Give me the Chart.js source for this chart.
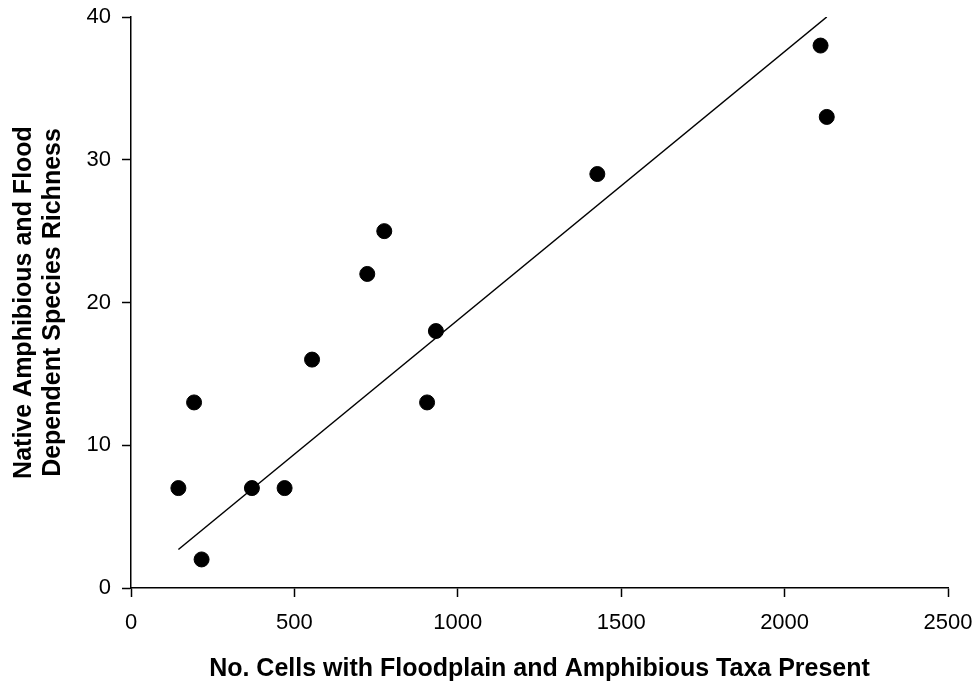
<!DOCTYPE html>
<html>
<head>
<meta charset="utf-8">
<script src="https://cdn.jsdelivr.net/npm/chart.js@4"></script>
<style>
  body { margin: 0; background: #fff; }
  #wrap { width: 976px; height: 684px; }
</style>
</head>
<body>
<div id="wrap"><canvas id="chart"></canvas></div>
<script>
// values
const cells =    [145, 193, 216, 370, 470, 554, 723, 775, 906, 933, 1427, 2110, 2129];
const richness = [7,   13,  2,   7,   7,   16,  22,  25,  13,  18,  29,   38,   33];
// fitted line, endpoints as drawn
const fitX = [145, 2129];
const fitY = [2.7, 40.0];

const font = 'Liberation Sans, Arial, sans-serif';

// stop the tick labels from pushing the plot area in
function noOverhang(s) {
  s.paddingLeft = 0;
  s.paddingRight = 0;
  s.paddingTop = 0;
  s.paddingBottom = 0;
}

const ctx = document.getElementById('chart').getContext('2d');

new Chart(ctx, {
  type: 'scatter',
  data: {
    datasets: [{
      data: cells.map((x, i) => ({ x: x, y: richness[i] })),
      backgroundColor: '#000',
      borderColor: '#000',
      pointRadius: 7.5,
      pointHoverRadius: 7.5
    }, {
      data: fitX.map((x, i) => ({ x: x, y: fitY[i] })),
      showLine: true,
      borderColor: '#000',
      borderWidth: 1.5,
      pointRadius: 0,
      fill: false
    }]
  },
  options: {
    responsive: true,
    maintainAspectRatio: false,
    animation: false,
    layout: { padding: { top: 17, right: 28, left: 0, bottom: 0 } },
    plugins: {
      legend: { display: false },
      tooltip: { enabled: false }
    },
    scales: {
      x: {
        type: 'linear',
        min: 0,
        max: 2500,
        afterFit: s => { s.height = 96; noOverhang(s); },
        ticks: {
          stepSize: 500,
          color: '#000',
          padding: 13,
          font: { family: font, size: 22 },
          callback: v => String(v)
        },
        grid: { drawOnChartArea: false, tickLength: 9, tickColor: '#000', tickWidth: 1.5 },
        border: { color: '#000', width: 1.5 },
        title: {
          display: true,
          text: 'No. Cells with Floodplain and Amphibious Taxa Present',
          color: '#000',
          font: { family: font, size: 25, weight: 'bold', lineHeight: 1.15 },
          padding: { top: 0, bottom: 1 }
        }
      },
      y: {
        min: 0,
        max: 40,
        afterFit: s => { s.width = 131; noOverhang(s); },
        ticks: {
          stepSize: 10,
          color: '#000',
          padding: 11,
          font: { family: font, size: 22 },
          callback: v => String(v)
        },
        grid: { drawOnChartArea: false, tickLength: 9, tickColor: '#000', tickWidth: 1.5 },
        border: { color: '#000', width: 1.5 },
        title: {
          display: true,
          text: ['Native Amphibious and Flood', 'Dependent Species Richness'],
          color: '#000',
          font: { family: font, size: 25, weight: 'bold', lineHeight: 1.15 },
          padding: { top: 10, bottom: 0 }
        }
      }
    }
  }
});
</script>
</body>
</html>
